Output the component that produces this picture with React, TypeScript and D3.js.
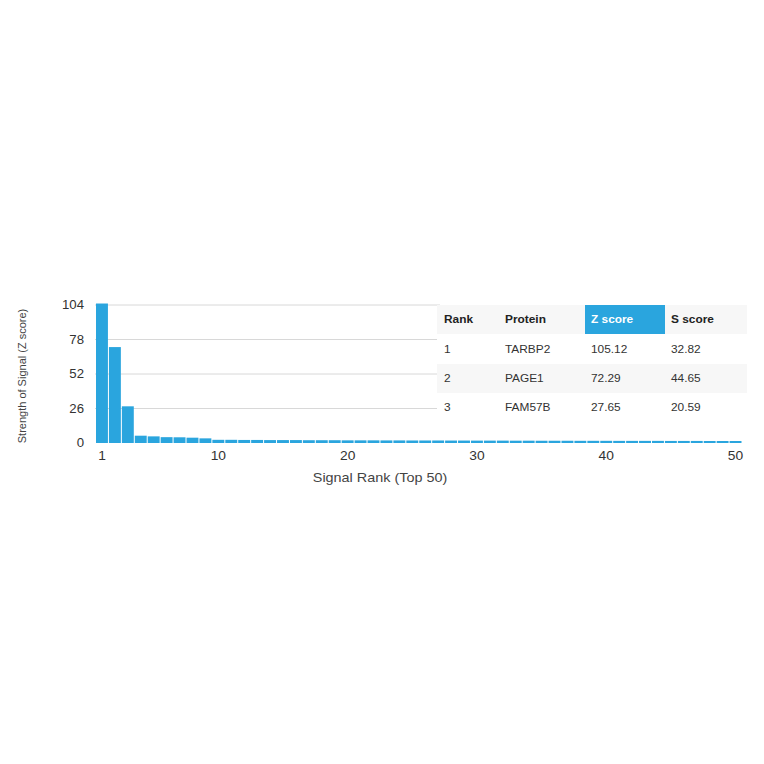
import React, { useEffect, useRef } from 'react';
import * as d3 from 'd3';

// z scores for ranks 1..50
const ranks = d3.range(1, 51);
const zScores = [
  105.12, 72.29, 27.65, 5.5, 5.0, 4.4, 4.3, 4.0, 3.5, 2.4,
  2.4, 2.3, 2.3, 2.2, 2.2, 2.2, 2.1, 2.1, 2.1, 2.0,
  2.0, 2.0, 1.95, 1.95, 1.9, 1.9, 1.9, 1.85, 1.85, 1.8,
  1.8, 1.8, 1.75, 1.75, 1.7, 1.7, 1.7, 1.65, 1.65, 1.65,
  1.6, 1.6, 1.6, 1.6, 1.55, 1.55, 1.55, 1.5, 1.5, 1.5,
];
const yTicks = [0, 26, 52, 78, 104];
const xTicks = [1, 10, 20, 30, 40, 50];

const tableHeader = ['Rank', 'Protein', 'Z score', 'S score'];
const tableRanks = ['1', '2', '3'];
const tableProteins = ['TARBP2', 'PAGE1', 'FAM57B'];
const tableZ = ['105.12', '72.29', '27.65'];
const tableS = ['32.82', '44.65', '20.59'];

const W = 764;
const H = 764;
const BAR = '#2aa5de';
const FONT = '"Liberation Sans", Arial, Helvetica, sans-serif';

export default function App() {
  const svgRef = useRef<SVGSVGElement | null>(null);

  useEffect(() => {
    const svg = d3.select(svgRef.current)
      .attr('width', W)
      .attr('height', H)
      .attr('viewBox', [0, 0, W, H]);
    svg.selectAll('*').remove();

    svg.append('rect').attr('width', W).attr('height', H).attr('fill', '#fff');

    const x = d3.scaleLinear().domain([0.5, 50.5]).range([95.5, 742]);
    const y = d3.scaleLinear().domain([0, 104]).range([443, 305]);
    const step = x(2) - x(1);

    // grid lines
    svg.append('g')
      .selectAll('line')
      .data(yTicks.filter(t => t > 0))
      .join('line')
      .attr('x1', 95)
      .attr('x2', 440)
      .attr('y1', d => y(d))
      .attr('y2', d => y(d))
      .attr('stroke', '#d8d8d8')
      .attr('stroke-width', 1);

    // bars
    svg.append('g')
      .selectAll('rect')
      .data(ranks)
      .join('rect')
      .attr('x', d => x(d) - step / 2 + 0.5)
      .attr('width', step - 1)
      .attr('y', (d, i) => y(zScores[i]))
      .attr('height', (d, i) => y(0) - y(zScores[i]))
      .attr('fill', BAR);

    // y ticks
    svg.append('g')
      .selectAll('text')
      .data(yTicks)
      .join('text')
      .attr('transform', d => `translate(84,${y(d)}) scale(1.1,1)`)
      .attr('dy', '0.35em')
      .attr('text-anchor', 'end')
      .attr('font-family', FONT)
      .attr('font-size', 12)
      .attr('fill', '#333')
      .text(d => d);

    // x ticks
    svg.append('g')
      .selectAll('text')
      .data(xTicks)
      .join('text')
      .attr('transform', d => `translate(${x(d)},456) scale(1.15,1)`)
      .attr('dy', '0.35em')
      .attr('text-anchor', 'middle')
      .attr('font-family', FONT)
      .attr('font-size', 12)
      .attr('fill', '#333')
      .text(d => d);

    // axis titles
    svg.append('text')
      .attr('transform', 'translate(22,376) rotate(-90)')
      .attr('text-anchor', 'middle')
      .attr('dy', '0.35em')
      .attr('font-family', FONT)
      .attr('font-size', 11)
      .attr('fill', '#444')
      .text('Strength of Signal (Z score)');

    svg.append('text')
      .attr('transform', 'translate(380,478) scale(1.2,1)')
      .attr('dy', '0.35em')
      .attr('text-anchor', 'middle')
      .attr('font-family', FONT)
      .attr('font-size', 12)
      .attr('fill', '#444')
      .text('Signal Rank (Top 50)');

    // table
    const tbl = svg.append('g');
    const colX = [444, 505, 591, 671];
    const rowTop = [305, 334, 364, 393];
    const rowH = [29, 30, 29, 29];
    const tableLeft = 437;
    const tableRight = 747;

    tbl.append('rect')
      .attr('x', tableLeft).attr('y', 305)
      .attr('width', tableRight - tableLeft).attr('height', 117)
      .attr('fill', '#fff');
    [0, 2].forEach(r => {
      tbl.append('rect')
        .attr('x', tableLeft).attr('y', rowTop[r])
        .attr('width', tableRight - tableLeft).attr('height', rowH[r])
        .attr('fill', '#f7f7f7');
    });
    tbl.append('rect')
      .attr('x', 585).attr('y', 305)
      .attr('width', 80).attr('height', 29)
      .attr('fill', BAR);

    tbl.append('g')
      .selectAll('text')
      .data(tableHeader)
      .join('text')
      .attr('transform', (d, i) => `translate(${colX[i]},${rowTop[0] + rowH[0] / 2}) scale(1.08,1)`)
      .attr('dy', '0.35em')
      .attr('font-family', FONT)
      .attr('font-size', 11)
      .attr('font-weight', 'bold')
      .attr('fill', (d, i) => (i === 2 ? '#fff' : '#222'))
      .text(d => d);

    const rows = tableRanks.map((r, i) => [r, tableProteins[i], tableZ[i], tableS[i]]);
    rows.forEach((row, r) => {
      tbl.append('g')
        .selectAll('text')
        .data(row)
        .join('text')
        .attr('transform', (d, i) => `translate(${colX[i]},${rowTop[r + 1] + rowH[r + 1] / 2}) scale(1.08,1)`)
        .attr('dy', '0.35em')
        .attr('font-family', FONT)
        .attr('font-size', 11)
        .attr('fill', '#333')
        .text(d => d);
    });
  }, []);

  return (
    <svg ref={svgRef} style={{ position: 'absolute', left: 0, top: 0 }}></svg>
  );
}
